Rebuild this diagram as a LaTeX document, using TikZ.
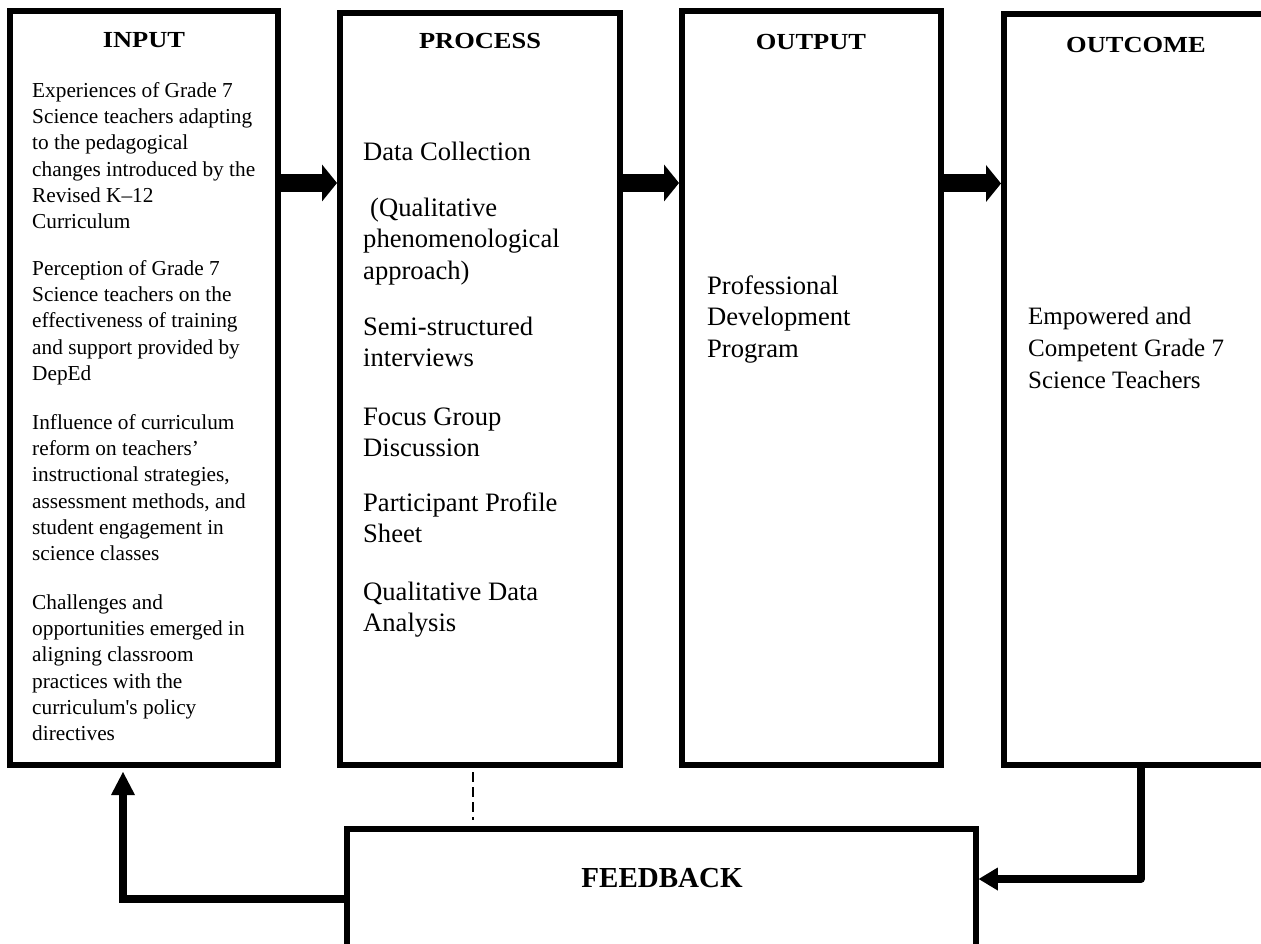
\documentclass[tikz,border=0pt]{standalone}
\usepackage{fontspec}
\setmainfont{Liberation Serif}
\newfontfamily\headfont{Liberation Serif}[FakeStretch=1.15]
\usetikzlibrary{arrows.meta}
\begin{document}
\begin{tikzpicture}[x=1pt,y=-1pt,
  stage/.style={draw, line width=6pt, rectangle, inner sep=0pt},
  fbbox/.style={draw, line width=5.5pt, rectangle, inner sep=0pt},
  heading/.style={anchor=base, inner sep=0pt,
    font=\headfont\bfseries\fontsize{23pt}{26pt}\selectfont},
  fbheading/.style={anchor=base, inner sep=0pt,
    font=\bfseries\fontsize{29pt}{32pt}\selectfont},
  smalltext/.style={anchor=north west, inner sep=0pt, align=left,
    font=\fontsize{21.3pt}{26.3pt}\selectfont},
  bigtext/.style={anchor=north west, inner sep=0pt, align=left,
    font=\fontsize{26.6pt}{31.5pt}\selectfont},
  midtext/.style={anchor=north west, inner sep=0pt, align=left,
    font=\fontsize{25pt}{32pt}\selectfont},
  blockarrow/.style={line width=18pt,
    -{Triangle[length=15pt,width=37pt,line width=0pt]}},
  looparrow/.style={line width=8pt},
  dashlink/.style={line width=2.5pt, dash pattern=on 10pt off 5pt},
]
\useasboundingbox (0,0) rectangle (1261,944);

% the four stages
\node[stage, minimum width=268pt, minimum height=754pt] (input)   at (144,388)   {};
\node[stage, minimum width=280pt, minimum height=752pt] (process) at (480,389)   {};
\node[stage, minimum width=259pt, minimum height=754pt] (output)  at (811.5,388) {};
\node[stage, minimum width=265pt, minimum height=751pt] (outcome) at (1136.5,389.5) {};
% feedback box
\node[fbbox, minimum width=629pt, minimum height=171pt] (feedback) at (661.5,914.5) {};

% headings
\node[heading] (hinput)   at (144,47.5)  {INPUT};
\node[heading] (hprocess) at (480,48.5)  {PROCESS};
\node[heading] (houtput)  at (811,49.5)  {OUTPUT};
\node[heading] (houtcome) at (1136,52.5) {OUTCOME};
\node[fbheading] (hfeedback) at (662,887) {FEEDBACK};

% input items
\node[smalltext] (in1) at (32,78.6) {\strut Experiences of Grade 7\\Science teachers adapting\\to the pedagogical\\changes introduced by the\\Revised K–12\\Curriculum};
\node[smalltext] (in2) at (32,256.6) {\strut Perception of Grade 7\\Science teachers on the\\effectiveness of training\\and support provided by\\DepEd};
\node[smalltext] (in3) at (32,410.6) {\strut Influence of curriculum\\reform on teachers’\\instructional strategies,\\assessment methods, and\\student engagement in\\science classes};
\node[smalltext] (in4) at (32,590.6) {\strut Challenges and\\opportunities emerged in\\aligning classroom\\practices with the\\curriculum\textquotesingle s policy\\directives};

% process items
\node[bigtext] (pr1) at (363,137.95) {\strut Data Collection};
\node[bigtext] (pr2) at (370,193.95) {\strut (Qualitative\\\hspace*{-7pt}phenomenological\\\hspace*{-7pt}approach)};
\node[bigtext] (pr3) at (363,312.95) {\strut Semi-structured\\interviews};
\node[bigtext] (pr4) at (363,402.95) {\strut Focus Group\\Discussion};
\node[bigtext] (pr5) at (363,488.95) {\strut Participant Profile\\Sheet};
\node[bigtext] (pr6) at (363,577.95) {\strut Qualitative Data\\Analysis};

% output and outcome
\node[bigtext] (out1) at (707,271.95) {\strut Professional\\Development\\Program};
\node[midtext] (oc1) at (1028,301.6) {\strut Empowered and\\Competent Grade 7\\Science Teachers};

% forward arrows
\coordinate (arow) at (0,183);
\coordinate (arow2) at (0,183.5);
\draw[blockarrow] (input.east |- arow) -- (process.west |- arow);
\draw[blockarrow] (process.east |- arow) -- (output.west |- arow);
\draw[blockarrow] (output.east |- arow2) -- (outcome.west |- arow2);

% feedback loop
\coordinate (loopL) at (123,899);
\coordinate (loopR) at (1141,879);
\draw[looparrow, -{Triangle[length=23pt,width=24pt,line width=0pt]}, shorten >=4pt]
  (loopL -| feedback.west) -| (input.south -| loopL);
\draw[looparrow, line join=round, line cap=round, -{Triangle[length=19pt,width=23pt,line width=0pt]}]
  ([yshift=2pt]outcome.south -| loopR) |- (feedback.east |- loopR);

% link from process to feedback
\coordinate (dashx) at (473,0);
\draw[dashlink, shorten <=4pt, shorten >=6pt] (process.south -| dashx) -- (feedback.north -| dashx);
\end{tikzpicture}
\end{document}
